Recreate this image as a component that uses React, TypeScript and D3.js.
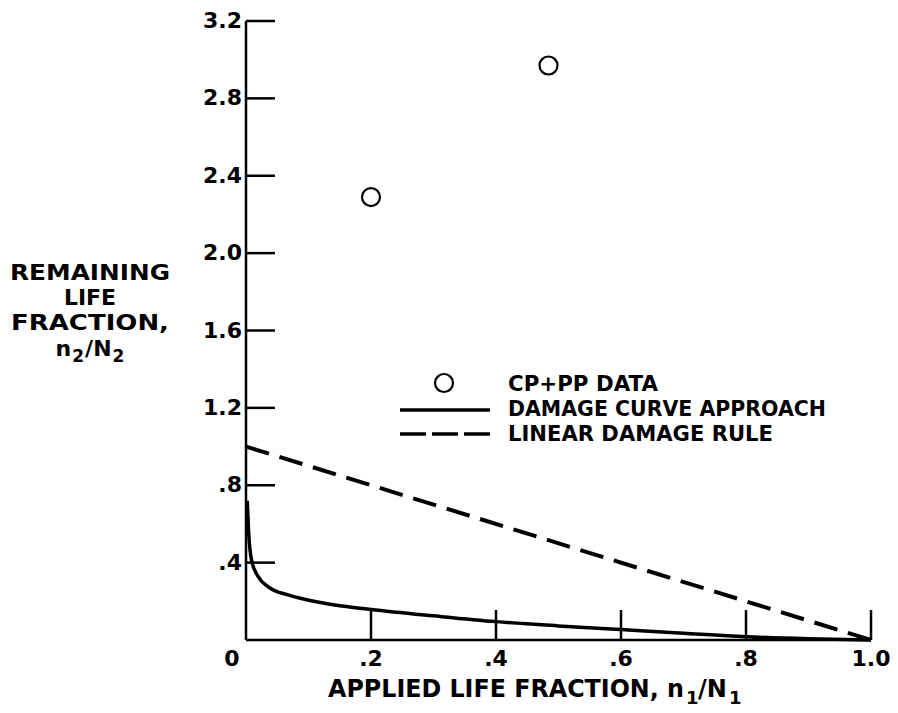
import React from "react";
import * as d3 from "d3";

// CP+PP data points [n1/N1, n2/N2]
const cpppData: [number, number][] = [
  [0.2, 2.29],
  [0.484, 2.97],
];

// damage curve approach
const damageCurve: [number, number][] = [
  [0.002, 0.72],
  [0.004, 0.57],
  [0.009, 0.41],
  [0.019, 0.33],
  [0.035, 0.276],
  [0.067, 0.233],
  [0.099, 0.207],
  [0.142, 0.181],
  [0.2, 0.158],
  [0.3, 0.125],
  [0.4, 0.095],
  [0.5, 0.073],
  [0.6, 0.054],
  [0.7, 0.035],
  [0.8, 0.017],
  [0.9, 0.006],
  [1.0, 0],
];

// linear damage rule
const linearRule: [number, number][] = [
  [0.0, 1.0],
  [1.0, 0.0],
];

const xTicks = [0.2, 0.4, 0.6, 0.8, 1.0];
const xTickLabels = ["0", ".2", ".4", ".6", ".8", "1.0"];
const xLabelValues = [0, 0.2, 0.4, 0.6, 0.8, 1.0];
const yTicks = [0.4, 0.8, 1.2, 1.6, 2.0, 2.4, 2.8, 3.2];
const yTickLabels = [".4", ".8", "1.2", "1.6", "2.0", "2.4", "2.8", "3.2"];

const legendItems = ["CP+PP DATA", "DAMAGE CURVE APPROACH", "LINEAR DAMAGE RULE"];
const legendWidths = [150, 318, 265];
const yTitleLines = ["REMAINING", "LIFE", "FRACTION,"];
const yTitleWidths = [160, 52, 158];

const W = 898;
const H = 713;
const font = "'DejaVu Sans', sans-serif";

const App = () => {
  const x = d3.scaleLinear().domain([0, 1]).range([246, 871]);
  const y = d3.scaleLinear().domain([0, 3.2]).range([640, 21]);

  const curveLine = d3
    .line<[number, number]>()
    .x((d) => x(d[0]))
    .y((d) => y(d[1]))
    .curve(d3.curveMonotoneX);

  const straight = d3
    .line<[number, number]>()
    .x((d) => x(d[0]))
    .y((d) => y(d[1]));

  const tickLen = 29;

  return (
    <svg
      width={W}
      height={H}
      style={{ position: "absolute", left: 0, top: 0, background: "#fff" }}
    >
      {/* axes */}
      <line x1={x(0)} x2={x(0)} y1={y(0)} y2={y(3.2)} stroke="#000" strokeWidth={2.5} />
      <line x1={x(0)} x2={x(1)} y1={y(0)} y2={y(0)} stroke="#000" strokeWidth={2.5} />

      {yTicks.map((t, i) => (
        <g key={"yt" + i}>
          <line x1={x(0)} x2={x(0) + tickLen} y1={y(t)} y2={y(t)} stroke="#000" strokeWidth={2.5} />
          <text
            x={242}
            y={y(t) + 7}
            textAnchor="end"
            fontFamily={font}
            fontWeight="bold"
            fontSize={22}
          >
            {yTickLabels[i]}
          </text>
        </g>
      ))}

      {xTicks.map((t, i) => (
        <line
          key={"xt" + i}
          x1={x(t)}
          x2={x(t)}
          y1={y(0)}
          y2={y(0) - 30}
          stroke="#000"
          strokeWidth={2.5}
        />
      ))}
      {xLabelValues.map((t, i) => (
        <text
          key={"xl" + i}
          x={i === 0 ? 232 : x(t)}
          y={666}
          textAnchor="middle"
          fontFamily={font}
          fontWeight="bold"
          fontSize={22}
        >
          {xTickLabels[i]}
        </text>
      ))}

      {/* axis titles */}
      <g fontFamily={font} fontWeight="bold">
        <text x={328} y={697} fontSize={24} textLength={356} lengthAdjust="spacingAndGlyphs">
          APPLIED LIFE FRACTION, n
        </text>
        <text x={686} y={704} fontSize={18}>1</text>
        <text x={698} y={697} fontSize={24}>/N</text>
        <text x={729} y={704} fontSize={18}>1</text>
      </g>

      {yTitleLines.map((s, i) => (
        <text
          key={"yl" + i}
          x={90 - yTitleWidths[i] / 2}
          y={280 + i * 25}
          fontFamily={font}
          fontWeight="bold"
          fontSize={22}
          textLength={yTitleWidths[i]}
          lengthAdjust="spacingAndGlyphs"
        >
          {s}
        </text>
      ))}
      <text x={90} y={356} textAnchor="middle" fontFamily={font} fontWeight="bold" fontSize={22}>
        <tspan>n</tspan>
        <tspan dx={1} dy={6} fontSize={17}>2</tspan>
        <tspan dx={1} dy={-6}>/N</tspan>
        <tspan dx={1} dy={6} fontSize={17}>2</tspan>
      </text>

      {/* data */}
      <path d={curveLine(damageCurve) || ""} fill="none" stroke="#000" strokeWidth={3.5} />
      <path
        d={straight(linearRule) || ""}
        fill="none"
        stroke="#000"
        strokeWidth={4}
        strokeDasharray="24,11"
      />
      {cpppData.map((d, i) => (
        <circle
          key={"c" + i}
          cx={x(d[0])}
          cy={y(d[1])}
          r={9}
          fill="none"
          stroke="#000"
          strokeWidth={2.2}
        />
      ))}

      {/* legend */}
      <circle cx={444} cy={383} r={9} fill="none" stroke="#000" strokeWidth={2.2} />
      <line x1={400} x2={490} y1={410} y2={410} stroke="#000" strokeWidth={3.5} />
      <line x1={400} x2={490} y1={434} y2={434} stroke="#000" strokeWidth={3.5} strokeDasharray="26,6" />
      {legendItems.map((s, i) => (
        <text
          key={"lg" + i}
          x={508}
          y={391 + i * 25}
          fontFamily={font}
          fontWeight="bold"
          fontSize={21}
          textLength={legendWidths[i]}
          lengthAdjust="spacingAndGlyphs"
        >
          {s}
        </text>
      ))}
    </svg>
  );
};

export default App;
